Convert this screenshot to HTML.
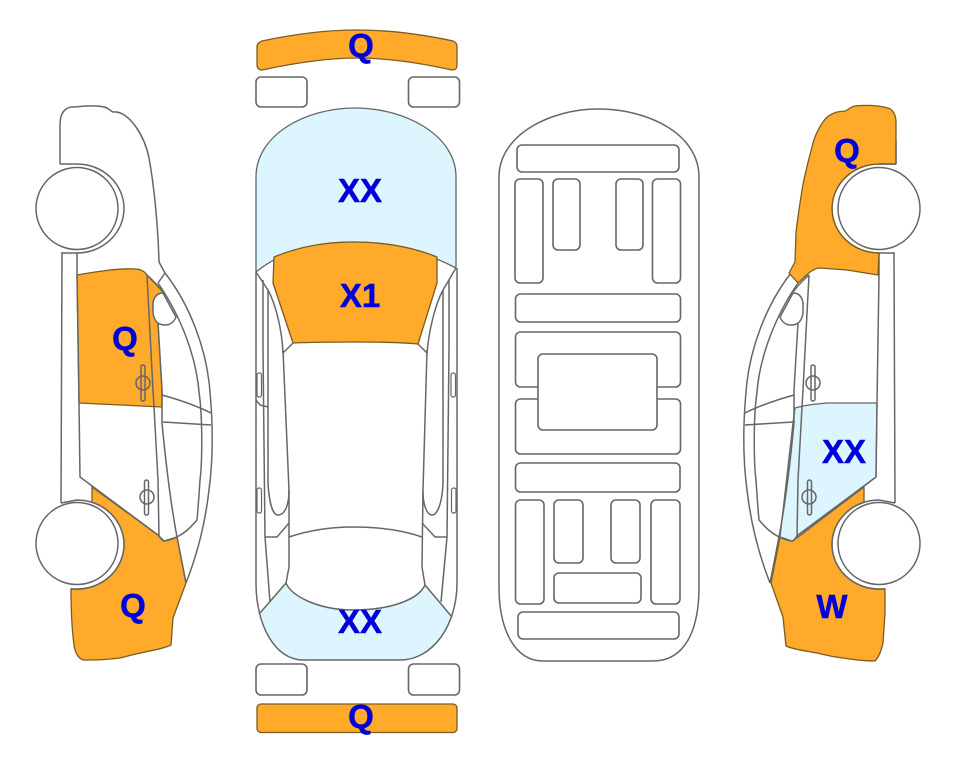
<!DOCTYPE html>
<html><head><meta charset="utf-8">
<style>
html,body{margin:0;padding:0;background:#fff;width:963px;height:768px;overflow:hidden}
svg{display:block;filter:blur(.3px)}
text{font-family:"Liberation Sans",sans-serif;font-weight:bold;font-size:33px;fill:#0000dc;stroke:#0000dc;stroke-width:.5;text-anchor:middle}
.l{fill:none;stroke:#666;stroke-width:1.5;stroke-linejoin:round}
.w{fill:#fff;stroke:#666;stroke-width:1.5}
.o{fill:#ffaa2b;stroke:#7a5c22;stroke-width:1.3;stroke-linejoin:round}
.b{fill:#ddf5ff;stroke:#666;stroke-width:1.3;stroke-linejoin:round}
.r rect{fill:#fff;stroke:#666;stroke-width:1.6}
</style></head>
<body>
<svg width="963" height="768" viewBox="0 0 963 768" xmlns="http://www.w3.org/2000/svg">
<defs>
<clipPath id="topclip"><path d="M256,177V583C256,625 275,660 303,660H400C433,660 457,625 457,583V177Z"/></clipPath>
<g id="side">
<path class="l" d="M165,273L158,283"/>
<path class="l" d="M165,273C190,305 207,350 210,392C213,425 213,460 209,490C205,525 197,555 186,583"/>
<path class="l" d="M158,283C180,315 196,355 199,392C203,420 202,465 200,480C199,495 198,510 197,520C190,528 185,533 177,537C170,540 166,541 163,541"/>
<path class="l" d="M60,164H77A47,44.500 0 0 1 124,208.500A47,44.500 0 0 1 77,253L61,253"/>
<path class="l" d="M62,253L61,503"/>
<path class="l" d="M77,253L77,275L79,403L80,477L158,535L163,541"/>
<path class="l" d="M61,503L77,500A47,44.500 0 0 1 124,544.500A47,44.500 0 0 1 77,589L71,589"/>
<path class="l" d="M147,275L153,390L154,407L158,480L159,537"/>
<path class="l" d="M147,275Q156,283 163,292"/>
<path class="l" d="M158,323L162,390L162,423C166,465 171,505 177,537L186,583"/>
<path class="l" d="M162,395C180,400 197,406 211,413M163,422L211,425"/>
<circle class="w" cx="77" cy="208.500" r="41"/>
<circle class="w" cx="77" cy="543.500" r="41"/>
<path class="w" d="M163,293C157,293 154,297 153,303L153,313C154,320 157,325 165,325C170,325 174,322 176,317Z"/>
<ellipse class="l" cx="143" cy="383" rx="7" ry="7"/>
<rect class="l" x="141" y="365" width="4" height="36" rx="2"/>
<ellipse class="l" cx="147" cy="497" rx="7" ry="7"/>
<rect class="l" x="144.500" y="480" width="4" height="35" rx="2"/>
</g>
</defs>

<!-- left side fills -->
<path class="o" d="M77,275C100,271 120,268 135,269C141,269 145,272 147,275L163,292L158,323L162,390L162,407L79,403Z"/>
<path class="o" d="M92,487L158,535L164,541L177,537L186,583L173,618L171,645C160,650 152,650 145,652C135,654 128,656 120,658C105,660 95,660 83,660C78,658 75,652 74,645C72,630 71,610 71,588.800A47,44.500 0 0 0 124,544.500A47,44.500 0 0 0 92,502.300Z"/>
<!-- left hood outline -->
<path class="l" d="M60,164V125C60,113 65,107 73,107C85,106 95,105 104,107C109,108 110,111 113,112C120,111 128,116 136,127C143,137 147,148 149,158C154,185 158,225 159,262L165,273"/>
<!-- right side fills -->
<path class="o" d="M864,487V502.300A47,44.500 0 0 0 832,544.500A47,44.500 0 0 0 885,588.800V613L883,643C881,652 878,658 875,661C865,661 855,660 843,658C833,657 825,655 817,653C807,651 795,650 786,646L783,617L771,583L780,537L792,541L798,537Z"/>
<path class="b" d="M795,408C805,405 815,404 827,403L877,403L876,477L798,537L792,541L780,537L793,423Z"/>

<use href="#side"/>
<use href="#side" transform="translate(956,0) scale(-1,1)"/>
<path class="o" d="M896,164V122C896,114 892,109 888,108C877,105 865,105 855,106C850,107 848,110 845,111L837,112C830,114 826,117 823,122C818,129 814,138 812,147C808,162 804,178 802,190C799,210 797,222 796,233L795,262L789,273L798,283L810,272C813,270 816,268 820,268L847,270L878,275L879,253A47,44.500 0 0 1 832,208.500A47,44.500 0 0 1 879,164Z"/>
<path class="l" d="M896,164V140M879,164H896"/>

<!-- top view -->
<path class="o" d="M262,41C290,35 325,30 357,30C390,30 425,35 453,41C456,42 457,44 457,47V65C457,68 456,70 452,70C425,64 390,58 357,58C325,58 290,64 262,70C259,70 257,68 257,65V47C257,44 259,42 262,41Z"/>
<g class="r">
<rect x="256" y="77" width="51" height="30" rx="5"/>
<rect x="408.500" y="77" width="51" height="30" rx="5"/>
<rect x="256" y="664" width="51" height="31" rx="5"/>
<rect x="408.500" y="664" width="51" height="31" rx="5"/>
</g>
<rect class="o" x="257" y="704" width="200" height="28.500" rx="4"/>

<path class="b" d="M256,272V177C256,135 305,108 355,108C405,108 456,135 456,177V268C425,252 390,242 353,242C315,242 280,252 256,272Z"/>
<path class="o" d="M274,257C298,247 325,242 353,242C385,242 412,247 437,257L437,283L418,344C395,342 375,342 357,342C335,342 315,342 293,343L273,283Z"/>
<path clip-path="url(#topclip)" d="M250,620L260,613L286,583C292,597 320,610 353,610C390,610 418,600 425,585L452,617L470,630V680H250Z" fill="#ddf5ff"/>
<path class="l" d="M260,613L286,583M425,585L452,617"/>

<path class="l" d="M256,272V583C256,625 275,660 303,660H400C433,660 457,625 457,583V268"/>
<path class="l" d="M256,272L268,290C276,305 282,330 283,353L293,343M456,268L443,290C435,305 429,330 427,353L418,344"/>
<path class="l" d="M263,280V350L265,537L270,602M268,290V483C269,500 272,515 278,515C285,515 289,505 289,490"/>
<path class="l" d="M283,350L289,490V567L286,583C292,597 320,610 353,610C390,610 418,600 425,585L422,567L423,490L427,350"/>
<path class="l" d="M449,280V350L447,537L441,602M443,290V483C442,505 437,515 432,515C427,515 423,505 423,492"/>
<path class="l" d="M289,537C310,530 330,527 353,527C378,527 402,530 422,537"/>
<path class="l" d="M265,537H277L289,523M447,537H435L422,523"/>
<path class="l" d="M256,400L260,405L268,407"/>
<g class="l" style="stroke-width:1.200">
<rect x="257" y="373" width="4.500" height="24" rx="2"/>
<rect x="257" y="488" width="4.500" height="25" rx="2"/>
<rect x="451" y="373" width="4.500" height="24" rx="2"/>
<rect x="451.500" y="488" width="4.500" height="25" rx="2"/>
</g>

<!-- underbody -->
<path class="l" d="M499,177C499,135 550,109 598,109C650,109 699,135 699,177V587C699,630 685,661 653,661H543C515,661 499,630 499,587Z"/>
<g class="r">
<rect x="517" y="145" width="162" height="27" rx="5"/>
<rect x="515" y="179" width="28" height="104" rx="5"/>
<rect x="553" y="179" width="27" height="71" rx="5"/>
<rect x="616" y="179" width="27" height="71" rx="5"/>
<rect x="652.500" y="179" width="28" height="104" rx="5"/>
<rect x="515.500" y="294" width="165" height="28" rx="5"/>
<rect x="515.500" y="332" width="165" height="55" rx="5"/>
<rect x="515.500" y="399" width="165" height="55" rx="5"/>
<rect x="538" y="354" width="119" height="76" rx="5"/>
<rect x="515.500" y="463" width="164.500" height="29" rx="5"/>
<rect x="515.500" y="500" width="28.500" height="104" rx="5"/>
<rect x="554" y="500" width="29" height="63" rx="5"/>
<rect x="611" y="500" width="29" height="63" rx="5"/>
<rect x="651" y="500" width="29" height="104" rx="5"/>
<rect x="554" y="573" width="87" height="30" rx="5"/>
<rect x="518" y="612" width="161" height="27" rx="5"/>
</g>

<!-- labels -->
<text x="361" y="57">Q</text>
<text x="360" y="202">XX</text>
<text x="360" y="307">X1</text>
<text x="360" y="633">XX</text>
<text x="361" y="728">Q</text>
<text x="125" y="350">Q</text>
<text x="133" y="617">Q</text>
<text x="847" y="162">Q</text>
<text x="844" y="463">XX</text>
<text x="832" y="618">W</text>
</svg>
</body></html>
